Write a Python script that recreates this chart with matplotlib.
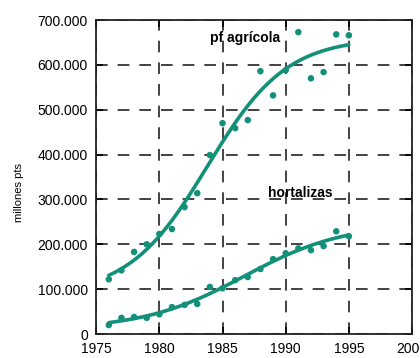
import numpy as np
import matplotlib
matplotlib.use('Agg')
import matplotlib.pyplot as plt

years = list(range(1976, 1996))

# miles de millones de pesetas
agricola = [122, 142, 183, 200, 223, 234, 283, 314, 399, 470,
            459, 477, 586, 532, 588, 673, 570, 584, 668, 666]
hortalizas = [20, 36, 38, 36, 44, 60, 65, 67, 105, 102,
              120, 127, 145, 167, 180, 191, 187, 196, 229, 218]

xticks = [1975, 1980, 1985, 1990, 1995, 2000]
yticks = [0, 100, 200, 300, 400, 500, 600, 700]
ytick_labels = ['0', '100.000', '200.000', '300.000', '400.000',
                '500.000', '600.000', '700.000']

GREEN = '#12907a'
FONT = ['Liberation Sans Narrow', 'Liberation Sans', 'DejaVu Sans']


def logistic_fit(t, y):
    """Least squares y = c + L / (1 + exp(-k (t - t0))), grid over k, t0."""
    best = None
    for k in np.linspace(0.05, 1.0, 96):
        for t0 in np.linspace(1975, 2000, 251):
            g = 1.0 / (1.0 + np.exp(-k * (t - t0)))
            A = np.column_stack([np.ones_like(g), g])
            sol, *_ = np.linalg.lstsq(A, y, rcond=None)
            err = np.sum((A @ sol - y) ** 2)
            if best is None or err < best[0]:
                best = (err, k, t0, sol)
    _, k, t0, (c, L) = best
    return lambda s: c + L / (1.0 + np.exp(-k * (s - t0)))


plt.rcParams['font.family'] = FONT

fig = plt.figure(figsize=(4.2, 3.58), dpi=100)
ax = fig.add_axes([0.229, 0.067, 0.752, 0.877])

x = np.array(years, dtype=float)
xs = np.linspace(x[0], x[-1], 200)

for serie in (agricola, hortalizas):
    f = logistic_fit(x, np.array(serie, dtype=float))
    ax.plot(xs, f(xs), color=GREEN, lw=2.6, zorder=3,
            solid_capstyle='round')
    ax.scatter(x, serie, s=22, color=GREEN, zorder=4, edgecolors='none')

ax.set_xlim(1975, 2000)
ax.set_ylim(0, 700)
ax.set_xticks(xticks)
ax.set_yticks(yticks)
ax.set_yticklabels(ytick_labels)

ax.grid(True, color='#222222', ls=(0, (7, 6)), lw=1.2)
ax.tick_params(direction='in', top=True, right=True, length=5, width=1.2,
               labelsize=10, pad=6)
for s in ax.spines.values():
    s.set_linewidth(1.3)
    s.set_color('#222222')

ax.set_ylabel('millones pts', fontsize=8)
ax.yaxis.set_label_coords(-0.23, 0.45)

ax.text(1984.0, 661, 'pf agrícola', fontsize=10, fontweight='bold',
        va='center')
ax.text(1988.6, 314, 'hortalizas', fontsize=10, fontweight='bold',
        va='center')

fig.savefig('out.png', dpi=100)
